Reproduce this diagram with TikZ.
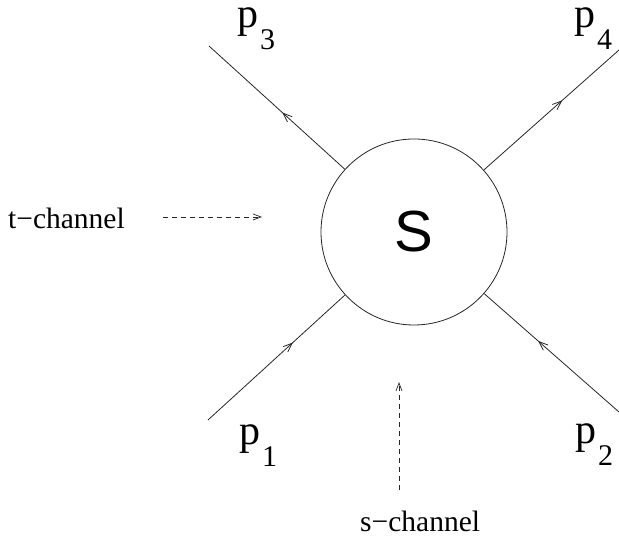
\documentclass[tikz,border=0pt]{standalone}
\usepackage{fontspec}
\setmainfont{Liberation Serif}
\newfontfamily\sansS{Liberation Sans}
\usetikzlibrary{arrows.meta,decorations.markings}
\newcommand\plab[1]{{\fontsize{42}{42}\selectfont p}\kern2pt\raisebox{-22pt}{\fontsize{30}{30}\selectfont #1}}
\tikzset{
  leg/.style={draw=black!85, line width=0.8pt},
  midarr/.style={postaction={decorate},decoration={markings,mark=at position #1 with {\arrow[black!85]{Straight Barb[length=9pt,width=7pt,line width=0.8pt]}}}},
  chan/.style={draw=black!85, line width=0.7pt, dash pattern=on 4.5pt off 4.5pt, -{Straight Barb[length=8pt,width=6pt]}},
  lbl/.style={anchor=base west, inner sep=0pt},
  chantext/.style={anchor=base west, inner sep=0pt, font=\fontsize{29.5}{29.5}\selectfont},
}
\begin{document}
\begin{tikzpicture}[x=1pt,y=1pt]
\useasboundingbox (0,0) rectangle (619,540);
\node[circle, draw=black!85, line width=0.8pt, minimum size=186pt, inner sep=0pt, font=\sansS\fontsize{58}{58}\selectfont] (S) at (414,308) {S};
\coordinate (c3) at (209,494);
\coordinate (c4) at (619,490);
\coordinate (c1) at (208,120);
\coordinate (c2) at (619,128);
\draw[leg, midarr=0.46] (S) -- (c3);
\draw[leg, midarr=0.58] (S) -- (c4);
\draw[leg, midarr=0.62] (c1) -- (S);
\draw[leg, midarr=0.60] (c2) -- (S);
\node[lbl] (p3) at (237,512) {\plab{3}};
\node[lbl] (p4) at (574,512) {\plab{4}};
\node[lbl] (p1) at (239,95) {\plab{1}};
\node[lbl] (p2) at (575,96) {\plab{2}};
\node[chantext] (tch) at (8,311) {t−channel};
\node[chantext] (sch) at (360,8) {s−channel};
\coordinate (ta) at (163,323);
\coordinate (tb) at (262,323);
\coordinate (sa) at (399,50);
\coordinate (sb) at (399,158);
\draw[chan] (ta) -- (tb);
\draw[chan] (sa) -- (sb);
\end{tikzpicture}
\end{document}
